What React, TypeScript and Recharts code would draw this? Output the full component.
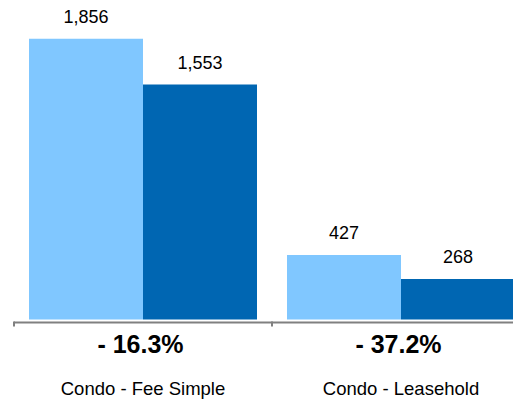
import { BarChart, Bar, XAxis, YAxis, LabelList } from "recharts";

const categories = ["Condo - Fee Simple", "Condo - Leasehold"];
const priorYear = [1856, 427];
const currentYear = [1553, 268];
const changeLabels = ["- 16.3%", "- 37.2%"];

const FONT = "'Liberation Sans', Arial, Helvetica, sans-serif";
const AXIS_GRAY = "#808080";

const data = categories.map((name, i) => ({
	name,
	prior: priorYear[i],
	current: currentYear[i],
	change: changeLabels[i],
}));

function CategoryTick(props: any) {
	const { x, y, payload, index, width, visibleTicksCount } = props;
	const half = width && visibleTicksCount ? width / visibleTicksCount / 2 : 0;
	const isLast = index === visibleTicksCount - 1;
	return (
		<g transform={`translate(${x},${y})`}>
			{half > 0 && (
				<line x1={-half} x2={-half} y1={-1} y2={4} stroke={AXIS_GRAY} strokeWidth={2} />
			)}
			{half > 0 && isLast && (
				<line x1={half} x2={half} y1={-1} y2={4} stroke={AXIS_GRAY} strokeWidth={2} />
			)}
			<text
				x={-2.5}
				y={30.5}
				textAnchor="middle"
				fontFamily={FONT}
				fontWeight="bold"
				fontSize={25}
				fill="#000"
			>
				{changeLabels[index]}
			</text>
			<text
				x={0}
				y={72.5}
				textAnchor="middle"
				fontFamily={FONT}
				fontSize={18.5}
				fill="#000"
			>
				{payload.value}
			</text>
		</g>
	);
}

const fmt = (v: any) => Number(v).toLocaleString("en-US");

export default function App() {
	return (
		<>
			<style>{"body { margin: 0; }"}</style>
			<div style={{ width: 513, height: 400, overflow: "hidden" }}>
				<BarChart
					width={530}
					height={400}
					data={data}
					margin={{ top: 17, right: 0, left: 14, bottom: 0 }}
					barCategoryGap={15}
					barGap={0}
				>
					<XAxis
						dataKey="name"
						height={77.5}
						axisLine={{ stroke: AXIS_GRAY, strokeWidth: 2 }}
						tickLine={false}
						tickSize={0}
						tickMargin={0}
						interval={0}
						tick={<CategoryTick />}
					/>
					<YAxis hide domain={[-20, 2000]} allowDataOverflow />
					<Bar dataKey="prior" fill="#80C7FF" isAnimationActive={false}>
						<LabelList
							dataKey="prior"
							position="top"
							offset={16}
							formatter={fmt}
							fill="#000"
							fontSize={18}
							fontFamily={FONT}
						/>
					</Bar>
					<Bar dataKey="current" fill="#0066B2" isAnimationActive={false}>
						<LabelList
							dataKey="current"
							position="top"
							offset={16}
							formatter={fmt}
							fill="#000"
							fontSize={18}
							fontFamily={FONT}
						/>
					</Bar>
				</BarChart>
			</div>
		</>
	);
}
